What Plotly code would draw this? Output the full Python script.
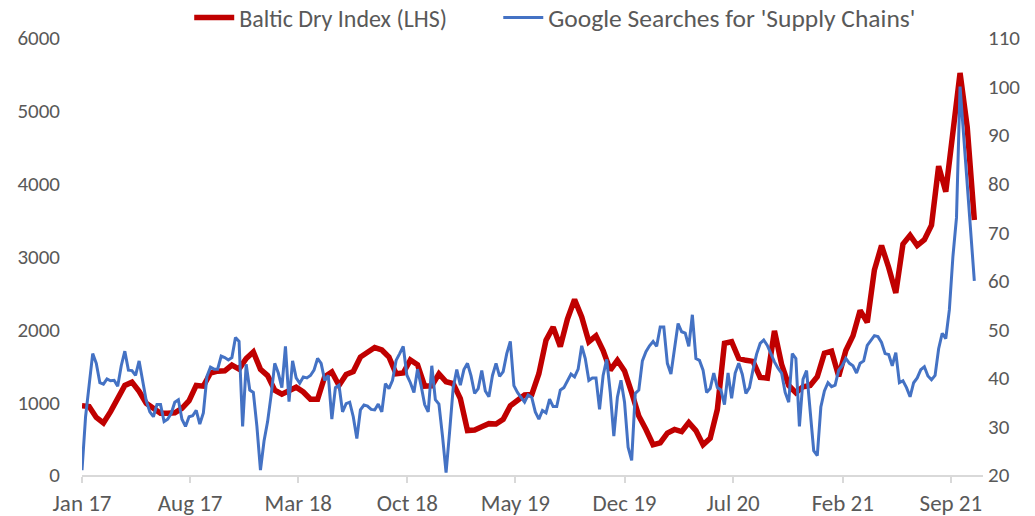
import pandas as pd
import plotly.graph_objects as go

# Baltic Dry Index (LHS), fortnightly from 2017-01-01
bdi_start = "2017-01-01"
bdi = [950, 940, 790, 715, 870, 1070, 1230, 1275, 1150, 985,
       910, 847, 847, 855, 915, 1020, 1230, 1220, 1400, 1425,
       1430, 1510, 1455, 1600, 1690, 1450, 1365, 1165, 1110, 1160,
       1205, 1140, 1040, 1040, 1350, 1415, 1230, 1380, 1420, 1620,
       1690, 1750, 1716, 1620, 1390, 1400, 1579, 1515, 1220, 1225,
       1390, 1280, 1255, 1050, 610, 618, 664, 705, 700, 765,
       950, 1025, 1098, 1105, 1390, 1850, 2030, 1762, 2140, 2410,
       2170, 1830, 1910, 1710, 1440, 1575, 1430, 1130, 810, 625,
       415, 440, 576, 625, 595, 720, 610, 415, 504, 900,
       1808, 1830, 1600, 1575, 1560, 1340, 1330, 1980, 1520, 1230,
       1130, 1212, 1230, 1350, 1671, 1700, 1355, 1710, 1910, 2260,
       2095, 2815, 3150, 2850, 2500, 3170, 3290, 3150, 3230, 3430,
       4240, 3890, 4770, 5520, 4780, 3500]

# Google searches for 'Supply Chains' (RHS), weekly from 2017-01-01
gs_start = "2017-01-01"
google = [21, 32, 38.5, 45, 43, 39, 38.7, 39.8, 39.4, 39.5,
          38.3, 42.5, 45.5, 41.6, 41.5, 40.5, 43.5, 39.5, 35.3, 33,
          32, 34.5, 34.5, 31, 31.5, 32.7, 35, 35.5, 31.5, 30,
          32, 32.2, 33.3, 30.5, 32.8, 40.3, 42.2, 41.8, 41.8, 44.5,
          44.2, 43.7, 44.2, 48.3, 47.5, 30, 42.8, 37.5, 37, 30,
          21, 27, 31, 36.5, 43, 41, 38, 46.5, 35.1, 43.5,
          40, 38.9, 40.2, 40, 40.5, 41.6, 44, 43, 39.5, 40.5,
          31.5, 38, 38.5, 33, 34.7, 35, 32, 27.5, 33.4, 34.4,
          34.2, 33.5, 33.4, 34.6, 33, 38.8, 37.8, 39.5, 43.6, 45,
          46.5, 40.6, 39, 37, 41.8, 38.4, 34.5, 33, 42.5, 35.5,
          34.6, 28, 20.5, 29, 38, 41.7, 38.5, 41.7, 43, 40.4,
          36.8, 37.8, 41.5, 37.3, 36.1, 40.5, 43, 40.3, 41.3, 45,
          47.5, 38.4, 37, 36, 35, 36.5, 36, 33, 31.5, 33.3,
          32.8, 35.6, 34.1, 34.1, 37.5, 38, 39.3, 40.8, 40.2, 41.8,
          46.6, 44, 39.5, 40, 40, 33.5, 40.5, 43.8, 37, 28,
          36, 39.5, 35, 25.7, 23, 36.8, 37.5, 43.5, 45.4, 46.6,
          47.5, 46.5, 50.5, 50.5, 43, 40.8, 46, 51.2, 49.5, 49.2,
          46.5, 53, 44, 43.6, 41.6, 37, 37.8, 41, 38, 37.5,
          34.5, 41, 35.8, 41, 43, 40.7, 36.8, 38, 41.7, 44.9,
          47.1, 47.8, 46.7, 45, 43.3, 42, 41, 37, 35, 45,
          44, 30, 39.7, 41.5, 34, 25, 24, 34, 37.3, 39,
          38.2, 38.5, 41.6, 42.5, 44, 43, 42.5, 41, 43, 43.5,
          46.7, 47.7, 48.7, 48.5, 47.3, 45, 44.8, 42.5, 45.2, 39,
          39.4, 38, 36.1, 39, 40, 41.7, 42.3, 40.4, 39.6, 40.5,
          46, 49.2, 48.1, 54, 65, 73, 100, 90, 80, 68,
          60]

bdi_dates = pd.date_range(bdi_start, periods=len(bdi), freq="14D")
gs_dates = pd.date_range(gs_start, periods=len(google), freq="7D")

FONT = "Carlito, Lato, sans-serif"
GREY = "#595959"

fig = go.Figure()
fig.add_trace(go.Scatter(
    x=bdi_dates, y=bdi, name="Baltic Dry Index (LHS)", mode="lines",
    line=dict(color="#C00000", width=5.5), yaxis="y", legend="legend"))
fig.add_trace(go.Scatter(
    x=gs_dates, y=google, name="Google Searches for 'Supply Chains'", mode="lines",
    line=dict(color="#4472C4", width=3), yaxis="y2", legend="legend2"))

legend_common = dict(orientation="h", yanchor="middle", y=1.046, xanchor="left",
                     bgcolor="rgba(0,0,0,0)", itemwidth=40)

fig.update_layout(
    width=1035, height=516, autosize=False,
    margin=dict(l=82, r=52, t=38, b=41, autoexpand=False),
    paper_bgcolor="white", plot_bgcolor="white",
    font=dict(family=FONT, size=21, color=GREY),
    showlegend=True,
    legend=dict(x=0.119, font=dict(family=FONT, size=24, color=GREY), **legend_common),
    legend2=dict(x=0.462, font=dict(family=FONT, size=25.5, color=GREY), **legend_common),
    xaxis=dict(type="date", range=["2017-01-01", "2021-11-03"],
               tick0="2017-01-01", dtick="M7", tickformat="%b %y",
               showgrid=False, showline=True, linecolor="#D9D9D9", linewidth=2,
               ticks="outside", ticklen=6, tickcolor="#D9D9D9", tickwidth=1.5,
               automargin=False,
               tickfont=dict(family=FONT, size=23, color=GREY), zeroline=False),
    yaxis=dict(range=[0, 6000], dtick=1000, showgrid=False, zeroline=False,
               showline=False, ticks="", ticklabelstandoff=21, automargin=False,
               tickfont=dict(family=FONT, size=21, color=GREY)),
    yaxis2=dict(range=[20, 110], dtick=10, overlaying="y", side="right",
                showgrid=False, zeroline=False, showline=False, ticks="",
                ticklabelstandoff=4, automargin=False,
                tickfont=dict(family=FONT, size=21, color=GREY)),
)

fig.write_html("out.html", config={"displayModeBar": False},
               post_script="document.body.style.margin='0';")
